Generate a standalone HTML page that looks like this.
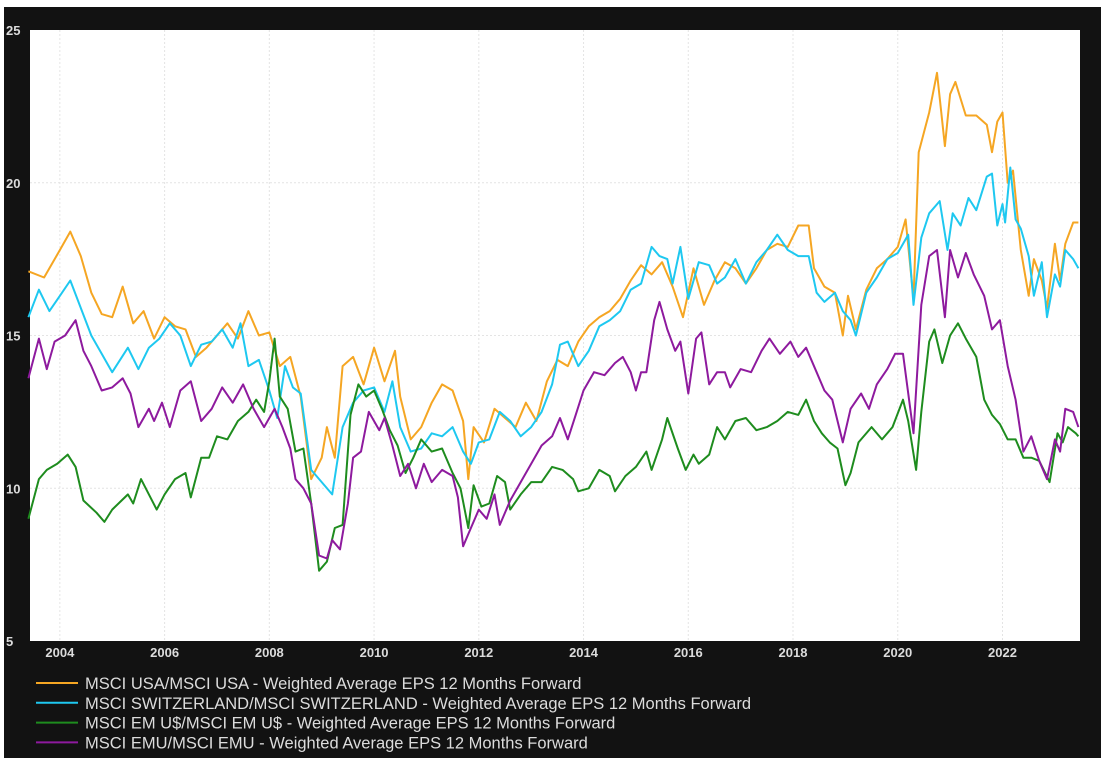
<!DOCTYPE html>
<html><head><meta charset="utf-8"><style>
html,body{margin:0;padding:0;background:#fff;width:1106px;height:768px;overflow:hidden}
svg{display:block;font-family:"Liberation Sans",Arial,sans-serif}
</style></head><body>
<svg id="chart" width="1106" height="768" viewBox="0 0 1106 768" xmlns="http://www.w3.org/2000/svg">
<rect x="4" y="7" width="1097" height="751" fill="#121212"/>
<rect x="30" y="30" width="1050" height="611" fill="#ffffff"/>
<g id="grid"></g>
<g id="axes"></g>
<g id="series"></g>
<g id="legend"></g>
</svg>
<script>
const yTicks=[5,10,15,20,25];
const xTicks=[2004,2006,2008,2010,2012,2014,2016,2018,2020,2022];
const seriesNames=["MSCI USA/MSCI USA - Weighted Average EPS 12 Months Forward","MSCI SWITZERLAND/MSCI SWITZERLAND - Weighted Average EPS 12 Months Forward","MSCI EM U$/MSCI EM U$ - Weighted Average EPS 12 Months Forward","MSCI EMU/MSCI EMU - Weighted Average EPS 12 Months Forward"];
const seriesColors=["#f5a623","#1ec8f0","#1e8c1e","#8e1a9e"];
const usa=[[2003.4,17.1],[2003.7,16.9],[2004.0,17.8],[2004.2,18.4],[2004.4,17.6],[2004.6,16.4],[2004.8,15.7],[2005.0,15.6],[2005.2,16.6],[2005.4,15.4],[2005.6,15.8],[2005.8,14.9],[2006.0,15.6],[2006.2,15.3],[2006.4,15.2],[2006.6,14.3],[2006.8,14.6],[2007.0,15.0],[2007.2,15.4],[2007.4,14.9],[2007.6,15.8],[2007.8,15.0],[2008.0,15.1],[2008.2,14.0],[2008.4,14.3],[2008.6,13.0],[2008.8,10.3],[2009.0,11.0],[2009.1,12.0],[2009.25,11.0],[2009.4,14.0],[2009.6,14.3],[2009.8,13.4],[2010.0,14.6],[2010.2,13.5],[2010.4,14.5],[2010.5,13.0],[2010.7,11.6],[2010.9,12.0],[2011.1,12.8],[2011.3,13.4],[2011.5,13.2],[2011.7,12.2],[2011.8,10.3],[2011.9,12.0],[2012.1,11.5],[2012.3,12.6],[2012.5,12.3],[2012.7,12.0],[2012.9,12.8],[2013.1,12.2],[2013.3,13.5],[2013.5,14.2],[2013.7,14.0],[2013.9,14.8],[2014.1,15.3],[2014.3,15.6],[2014.5,15.8],[2014.7,16.2],[2014.9,16.8],[2015.1,17.3],[2015.3,17.0],[2015.5,17.4],[2015.7,16.6],[2015.9,15.6],[2016.1,17.2],[2016.3,16.0],[2016.5,16.8],[2016.7,17.4],[2016.9,17.2],[2017.1,16.7],[2017.3,17.2],[2017.5,17.8],[2017.7,18.0],[2017.9,17.9],[2018.1,18.6],[2018.3,18.6],[2018.4,17.2],[2018.6,16.6],[2018.8,16.4],[2018.95,15.0],[2019.05,16.3],[2019.2,15.2],[2019.4,16.5],[2019.6,17.2],[2019.8,17.5],[2020.0,17.9],[2020.15,18.8],[2020.3,16.2],[2020.4,21.0],[2020.6,22.3],[2020.75,23.6],[2020.9,21.2],[2021.0,22.9],[2021.1,23.3],[2021.3,22.2],[2021.5,22.2],[2021.7,21.9],[2021.8,21.0],[2021.9,22.0],[2022.0,22.3],[2022.1,20.0],[2022.2,20.4],[2022.35,17.8],[2022.5,16.3],[2022.6,17.5],[2022.75,16.8],[2022.85,15.9],[2023.0,18.0],[2023.1,16.8],[2023.2,18.0],[2023.35,18.7],[2023.45,18.7]];
const swiss=[[2003.4,15.6],[2003.6,16.5],[2003.8,15.8],[2004.0,16.3],[2004.2,16.8],[2004.4,15.9],[2004.6,15.0],[2004.8,14.4],[2005.0,13.8],[2005.3,14.6],[2005.5,13.9],[2005.7,14.6],[2005.9,14.9],[2006.1,15.4],[2006.3,15.0],[2006.5,14.0],[2006.7,14.7],[2006.9,14.8],[2007.1,15.2],[2007.3,14.6],[2007.45,15.4],[2007.6,14.0],[2007.8,14.2],[2008.0,13.2],[2008.15,12.3],[2008.3,14.0],[2008.45,13.3],[2008.6,13.1],[2008.8,10.6],[2009.0,10.2],[2009.2,9.8],[2009.4,12.0],[2009.6,12.8],[2009.8,13.2],[2010.0,13.3],[2010.2,12.5],[2010.35,13.5],[2010.5,12.0],[2010.7,11.2],[2010.9,11.3],[2011.1,11.8],[2011.3,11.7],[2011.5,12.0],[2011.7,11.2],[2011.85,10.8],[2012.0,11.5],[2012.2,11.6],[2012.4,12.5],[2012.6,12.2],[2012.8,11.7],[2013.0,12.0],[2013.2,12.5],[2013.4,13.4],[2013.55,14.7],[2013.7,14.8],[2013.9,14.0],[2014.1,14.5],[2014.3,15.3],[2014.5,15.5],[2014.7,15.8],[2014.9,16.5],[2015.1,16.7],[2015.3,17.9],[2015.45,17.6],[2015.6,17.5],[2015.7,16.7],[2015.85,17.9],[2016.0,16.2],[2016.2,17.4],[2016.4,17.3],[2016.55,16.7],[2016.7,16.9],[2016.9,17.5],[2017.1,16.7],[2017.3,17.4],[2017.5,17.8],[2017.7,18.3],[2017.9,17.8],[2018.1,17.6],[2018.3,17.6],[2018.45,16.4],[2018.6,16.1],[2018.8,16.4],[2018.95,15.8],[2019.1,15.5],[2019.2,15.0],[2019.4,16.4],[2019.6,16.9],[2019.8,17.5],[2020.0,17.7],[2020.2,18.3],[2020.3,16.0],[2020.45,18.2],[2020.6,19.0],[2020.8,19.4],[2020.95,17.8],[2021.05,19.0],[2021.2,18.6],[2021.35,19.5],[2021.5,19.1],[2021.7,20.2],[2021.8,20.3],[2021.9,18.6],[2022.0,19.3],[2022.05,18.7],[2022.15,20.5],[2022.25,18.8],[2022.35,18.5],[2022.5,17.6],[2022.6,16.3],[2022.75,17.4],[2022.85,15.6],[2023.0,17.0],[2023.1,16.6],[2023.2,17.8],[2023.35,17.5],[2023.45,17.2]];
const em=[[2003.4,9.0],[2003.6,10.3],[2003.75,10.6],[2003.95,10.8],[2004.15,11.1],[2004.3,10.7],[2004.45,9.6],[2004.7,9.2],[2004.85,8.9],[2005.0,9.3],[2005.3,9.8],[2005.4,9.5],[2005.55,10.3],[2005.7,9.8],[2005.85,9.3],[2006.0,9.8],[2006.2,10.3],[2006.4,10.5],[2006.5,9.7],[2006.7,11.0],[2006.85,11.0],[2007.0,11.7],[2007.2,11.6],[2007.4,12.2],[2007.6,12.5],[2007.75,12.9],[2007.9,12.5],[2008.0,13.5],[2008.1,14.9],[2008.2,13.0],[2008.35,12.6],[2008.5,11.2],[2008.65,11.3],[2008.8,9.5],[2008.95,7.3],[2009.1,7.6],[2009.25,8.7],[2009.4,8.8],[2009.55,12.4],[2009.7,13.4],[2009.85,13.0],[2010.0,13.2],[2010.15,12.6],[2010.3,11.9],[2010.45,11.4],[2010.6,10.5],[2010.75,11.0],[2010.9,11.6],[2011.1,11.2],[2011.3,11.3],[2011.5,10.5],[2011.65,10.0],[2011.8,8.7],[2011.9,10.1],[2012.05,9.4],[2012.2,9.5],[2012.35,10.4],[2012.5,10.2],[2012.6,9.3],[2012.8,9.8],[2013.0,10.2],[2013.2,10.2],[2013.4,10.7],[2013.6,10.6],[2013.8,10.3],[2013.9,9.9],[2014.1,10.0],[2014.3,10.6],[2014.5,10.4],[2014.6,9.9],[2014.8,10.4],[2015.0,10.7],[2015.2,11.2],[2015.3,10.6],[2015.5,11.6],[2015.6,12.3],[2015.8,11.3],[2015.95,10.6],[2016.1,11.1],[2016.2,10.8],[2016.4,11.1],[2016.55,12.0],[2016.7,11.6],[2016.9,12.2],[2017.1,12.3],[2017.3,11.9],[2017.5,12.0],[2017.7,12.2],[2017.9,12.5],[2018.1,12.4],[2018.25,12.9],[2018.4,12.2],[2018.55,11.8],[2018.7,11.5],[2018.85,11.3],[2019.0,10.1],[2019.1,10.5],[2019.25,11.5],[2019.5,12.0],[2019.7,11.6],[2019.9,12.0],[2020.1,12.9],[2020.2,12.2],[2020.35,10.6],[2020.45,12.5],[2020.6,14.8],[2020.7,15.2],[2020.85,14.1],[2021.0,15.0],[2021.15,15.4],[2021.3,14.9],[2021.5,14.3],[2021.65,12.9],[2021.8,12.4],[2021.95,12.1],[2022.1,11.6],[2022.25,11.6],[2022.4,11.0],[2022.55,11.0],[2022.7,10.9],[2022.9,10.2],[2023.05,11.8],[2023.15,11.5],[2023.25,12.0],[2023.4,11.8],[2023.45,11.7]];
const emu=[[2003.4,13.6],[2003.6,14.9],[2003.75,13.9],[2003.9,14.8],[2004.1,15.0],[2004.3,15.5],[2004.45,14.5],[2004.6,14.0],[2004.8,13.2],[2005.0,13.3],[2005.2,13.6],[2005.35,13.1],[2005.5,12.0],[2005.7,12.6],[2005.8,12.2],[2005.95,12.8],[2006.1,12.0],[2006.3,13.2],[2006.5,13.5],[2006.7,12.2],[2006.9,12.6],[2007.1,13.3],[2007.3,12.8],[2007.5,13.4],[2007.7,12.6],[2007.9,12.0],[2008.1,12.6],[2008.25,12.0],[2008.4,11.3],[2008.5,10.3],[2008.65,10.0],[2008.8,9.5],[2008.95,7.8],[2009.1,7.7],[2009.2,8.3],[2009.35,8.0],[2009.5,9.5],[2009.6,11.0],[2009.75,11.2],[2009.9,12.5],[2010.1,11.9],[2010.2,12.3],[2010.35,11.4],[2010.5,10.4],[2010.65,10.8],[2010.8,10.0],[2010.95,10.8],[2011.1,10.2],[2011.3,10.6],[2011.5,10.4],[2011.6,9.7],[2011.7,8.1],[2011.85,8.7],[2012.0,9.3],[2012.15,9.0],[2012.3,9.8],[2012.4,8.8],[2012.6,9.6],[2012.8,10.2],[2013.0,10.8],[2013.2,11.4],[2013.4,11.7],[2013.55,12.3],[2013.7,11.6],[2013.85,12.4],[2014.0,13.2],[2014.2,13.8],[2014.4,13.7],[2014.6,14.1],[2014.75,14.3],[2014.9,13.8],[2015.0,13.2],[2015.1,13.8],[2015.2,13.8],[2015.35,15.5],[2015.45,16.1],[2015.6,15.2],[2015.75,14.5],[2015.85,14.8],[2016.0,13.1],[2016.15,14.9],[2016.25,15.1],[2016.4,13.4],[2016.55,13.8],[2016.7,13.8],[2016.8,13.3],[2017.0,13.9],[2017.2,13.8],[2017.4,14.5],[2017.55,14.9],[2017.75,14.4],[2017.95,14.8],[2018.1,14.3],[2018.25,14.6],[2018.45,13.8],[2018.6,13.2],[2018.75,12.9],[2018.95,11.5],[2019.1,12.6],[2019.3,13.1],[2019.45,12.6],[2019.6,13.4],[2019.8,13.9],[2019.95,14.4],[2020.1,14.4],[2020.3,11.8],[2020.45,16.0],[2020.6,17.6],[2020.75,17.8],[2020.9,15.6],[2021.0,17.8],[2021.15,16.9],[2021.3,17.7],[2021.45,17.0],[2021.65,16.3],[2021.8,15.2],[2021.95,15.5],[2022.1,14.0],[2022.25,12.9],[2022.4,11.2],[2022.55,11.7],[2022.7,10.9],[2022.85,10.3],[2023.0,11.6],[2023.1,11.2],[2023.2,12.6],[2023.35,12.5],[2023.45,12.0]];
const seriesData=[usa,swiss,em,emu];
const seriesKeys=["usa","switzerland","em","emu"];

const NS="http://www.w3.org/2000/svg";
const PL=30,PR=1080,PT=30,PB=641;
const X0=2003.43,X1=2023.48;
function xs(t){return PL+(t-X0)/(X1-X0)*(PR-PL);}
function ys(v){return PB-(v-5)/(25-5)*(PB-PT);}
function mk(tag,attrs,parent){const e=document.createElementNS(NS,tag);for(const k in attrs)e.setAttribute(k,attrs[k]);parent.appendChild(e);return e;}
const grid=document.getElementById('grid'),axes=document.getElementById('axes'),ser=document.getElementById('series'),leg=document.getElementById('legend');
yTicks.forEach(v=>{
  if(v>5&&v<25){const g=mk('line',{x1:PL,x2:PR,y1:ys(v),y2:ys(v),stroke:'#e4e4e4','stroke-dasharray':'2,2','stroke-width':1},grid);
  
  }
  const t=mk('text',{x:6,y:ys(v)+5,fill:'#dcdcdc','font-size':'13','font-weight':'bold'},axes);
  t.textContent=v;
  
  
});
xTicks.forEach(yr=>{
  const g=mk('line',{x1:xs(yr),x2:xs(yr),y1:PT,y2:PB,stroke:'#e4e4e4','stroke-dasharray':'2,2','stroke-width':1},grid);
  
  
  const t=mk('text',{x:xs(yr),y:657,fill:'#dcdcdc','font-size':'13','font-weight':'bold','text-anchor':'middle'},axes);
  t.textContent=yr;
  
  
});
seriesData.forEach((d,i)=>{
  const p=mk('polyline',{points:d.map(q=>xs(q[0]).toFixed(1)+','+ys(q[1]).toFixed(1)).join(' '),fill:'none',stroke:seriesColors[i],'stroke-width':2,'stroke-linejoin':'round'},ser);
  
  
  const ly=683+i*19.8;
  const l=mk('line',{x1:36,x2:78,y1:ly,y2:ly,stroke:seriesColors[i],'stroke-width':2},leg);
  
  
  const t=mk('text',{x:85,y:ly+6,fill:'#dcdcdc','font-size':'16.5'},leg);
  t.textContent=seriesNames[i];
  
  
});
</script>
</body></html>
